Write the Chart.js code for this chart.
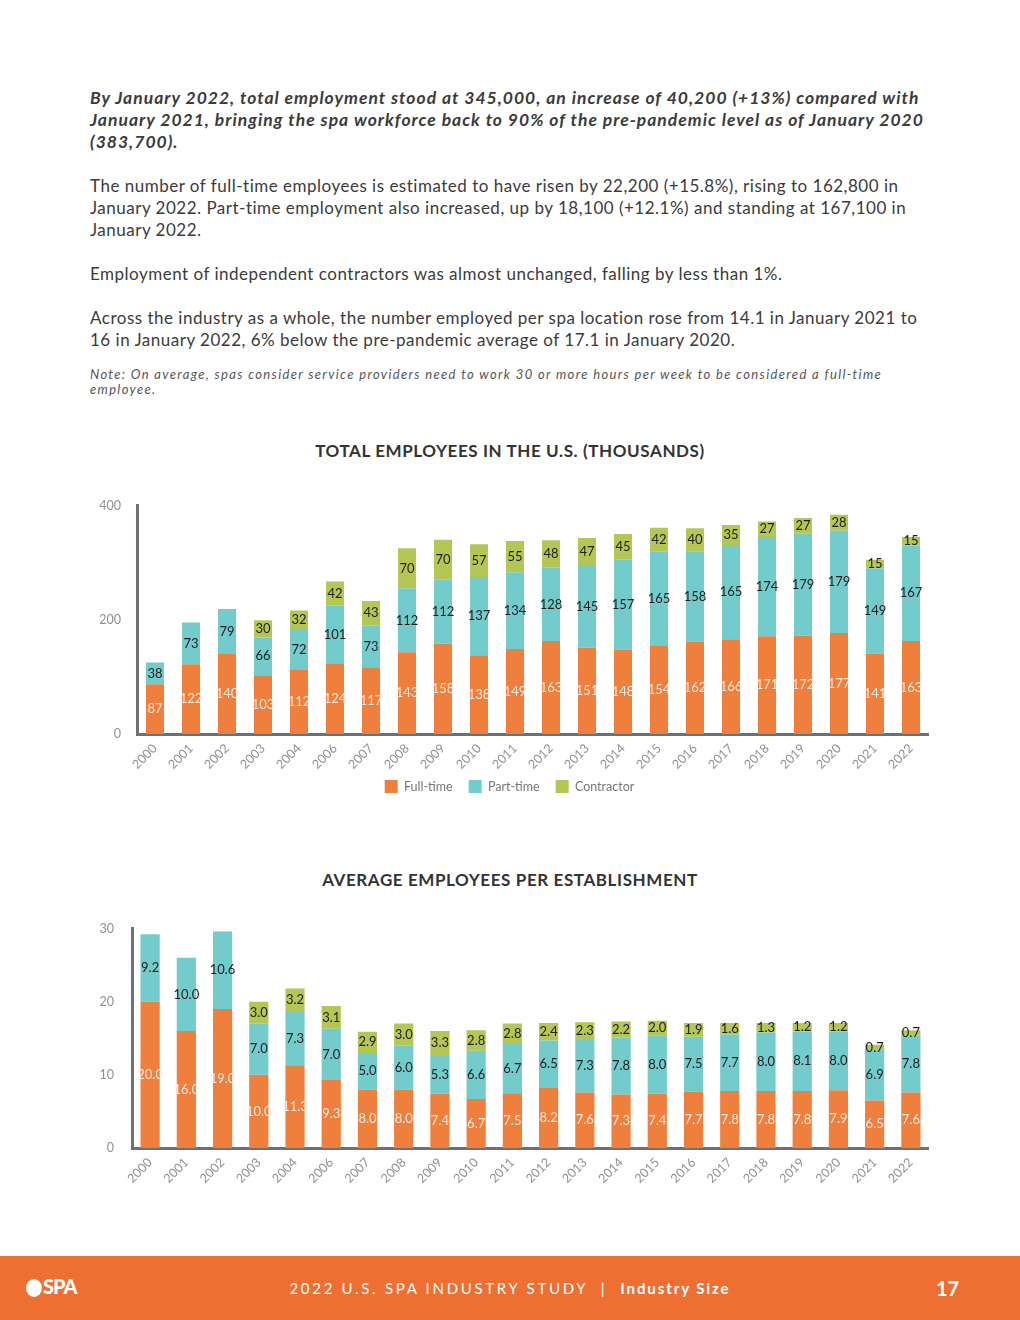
<!DOCTYPE html>
<html>
<head>
<meta charset="utf-8">
<script src="https://cdn.jsdelivr.net/npm/chart.js@4.4.0/dist/chart.umd.min.js"></script>
<style>
  body { margin: 0; width: 1020px; height: 1320px; position: relative; background: #fff; font-family: Lato, sans-serif; overflow: hidden; }
  .text { position: absolute; left: 90px; top: 87px; width: 880px; color: #3b3b3b; font-size: 17px; line-height: 22px; white-space: nowrap; letter-spacing: 0.5px; }
  .text p { margin: 0 0 22px 0; }
  .text .lead { font-weight: 700; font-style: italic; font-size: 17.5px; letter-spacing: 1px; }
  .text .note { font-style: italic; font-size: 13px; line-height: 15px; letter-spacing: 1.35px; color: #555; margin-top: -6px; }
  .title { position: absolute; left: 0; width: 1020px; text-align: center; font-size: 17px; font-weight: 700; color: #333; letter-spacing: 0.6px; }
  .chart { position: absolute; left: 90px; width: 839px; }
  .footer { position: absolute; left: 0; top: 1256px; width: 1020px; height: 64px; background: #ef6f33; color: #fff; }
  .footer .mid { position: absolute; left: 0; width: 1020px; top: 23px; text-align: center; font-size: 15px; letter-spacing: 2.7px; }
  .footer .mid b { letter-spacing: 1.9px; }
  .footer .page { position: absolute; left: 936px; top: 20px; font-size: 20px; font-weight: 700; }
  .footer .logo { position: absolute; left: 26px; top: 18px; font-size: 20px; font-weight: 900; letter-spacing: -1px; }
  .footer .logo span { display: inline-block; width: 16px; height: 18px; border-radius: 50%; background: #fff; vertical-align: -3px; margin-right: 1px; }
</style>
</head>
<body>
<div class="text">
  <p class="lead">By January 2022, total employment stood at 345,000, an increase of 40,200 (+13%) compared with<br>January 2021, bringing the spa workforce back to 90% of the pre-pandemic level as of January 2020<br>(383,700).</p>
  <p>The number of full-time employees is estimated to have risen by 22,200 (+15.8%), rising to 162,800 in<br>January 2022. Part-time employment also increased, up by 18,100 (+12.1%) and standing at 167,100 in<br>January 2022.</p>
  <p>Employment of independent contractors was almost unchanged, falling by less than 1%.</p>
  <p>Across the industry as a whole, the number employed per spa location rose from 14.1 in January 2021 to<br>16 in January 2022, 6% below the pre-pandemic average of 17.1 in January 2020.</p>
  <p class="note">Note: On average, spas consider service providers need to work 30 or more hours per week to be considered a full-time<br>employee.</p>
</div>

<div class="title" style="top:440px;">TOTAL EMPLOYEES IN THE U.S. (THOUSANDS)</div>
<div class="chart" style="top:482px; height:321px;"><canvas id="canvas-total"></canvas></div>

<div class="title" style="top:869px;">AVERAGE EMPLOYEES PER ESTABLISHMENT</div>
<div class="chart" style="top:903px; height:290px;"><canvas id="canvas-avg"></canvas></div>

<div class="footer">
  <div class="logo"><span></span>SPA</div>
  <div class="mid">2022 U.S. SPA INDUSTRY STUDY &nbsp;|&nbsp; <b>Industry Size</b></div>
  <div class="page">17</div>
</div>

<script>
const years = ["2000", "2001", "2002", "2003", "2004", "2006", "2007", "2008", "2009", "2010", "2011",
  "2012", "2013", "2014", "2015", "2016", "2017", "2018", "2019", "2020", "2021", "2022"];

// total employees, thousands
const totalFullTime = [87, 122, 140, 103, 112, 124, 117, 143, 158, 138, 149, 163, 151, 148, 154, 162, 166, 171, 172, 177, 141, 163];
const totalPartTime = [38, 73, 79, 66, 72, 101, 73, 112, 112, 137, 134, 128, 145, 157, 165, 158, 165, 174, 179, 179, 149, 167];
const totalContractor = [null, null, null, 30, 32, 42, 43, 70, 70, 57, 55, 48, 47, 45, 42, 40, 35, 27, 27, 28, 15, 15];
const totalTicks = [0, 200, 400];

// average employees per establishment
const avgFullTime = [20.0, 16.0, 19.0, 10.0, 11.3, 9.3, 8.0, 8.0, 7.4, 6.7, 7.5, 8.2, 7.6, 7.3, 7.4, 7.7, 7.8, 7.8, 7.8, 7.9, 6.5, 7.6];
const avgPartTime = [9.2, 10.0, 10.6, 7.0, 7.3, 7.0, 5.0, 6.0, 5.3, 6.6, 6.7, 6.5, 7.3, 7.8, 8.0, 7.5, 7.7, 8.0, 8.1, 8.0, 6.9, 7.8];
const avgContractor = [null, null, null, 3.0, 3.2, 3.1, 2.9, 3.0, 3.3, 2.8, 2.8, 2.4, 2.3, 2.2, 2.0, 1.9, 1.6, 1.3, 1.2, 1.2, 0.7, 0.7];
const avgTicks = [0, 10, 20, 30];

const ORANGE = "#ef7f3c";
const TEAL = "#74cbcb";
const GREEN = "#b6c654";
const LABEL_COLORS = ["#fbe9dd", "#1e1e1e", "#1e1e1e"];

// draws the value in the middle of each bar segment
const segmentLabels = {
  id: "segmentLabels",
  afterDatasetsDraw(chart, args, opts) {
    const ctx = chart.ctx;
    ctx.save();
    ctx.font = "13px Lato";
    ctx.textAlign = "center";
    ctx.textBaseline = "middle";
    chart.data.datasets.forEach((ds, i) => {
      const meta = chart.getDatasetMeta(i);
      meta.data.forEach((bar, j) => {
        const v = ds.data[j];
        if (v === null) return;
        const p = bar.getProps(["x", "y", "base"], true);
        ctx.fillStyle = LABEL_COLORS[i];
        ctx.fillText(opts.digits ? v.toFixed(opts.digits) : String(v), p.x, (p.y + p.base) / 2);
      });
    });
    ctx.restore();
  }
};

function createChart(id, fullTime, partTime, contractor, ticks, opts) {
  const ctx = document.getElementById(id);
  return new Chart(ctx, {
    type: "bar",
    data: {
      labels: years,
      datasets: [
        { label: "Full-time", data: fullTime, backgroundColor: ORANGE },
        { label: "Part-time", data: partTime, backgroundColor: TEAL },
        { label: "Contractor", data: contractor, backgroundColor: GREEN },
      ],
    },
    options: {
      responsive: true,
      maintainAspectRatio: false,
      animation: false,
      datasets: { bar: { barPercentage: opts.barPct, categoryPercentage: 1 } },
      layout: { padding: { top: 10, right: 0, left: 0, bottom: 0 } },
      plugins: {
        legend: {
          display: opts.legend,
          position: "bottom",
          labels: { boxWidth: 13, boxHeight: 13, padding: 16, color: "#777", font: { family: "Lato", size: 12.5 } },
        },
        tooltip: { enabled: false },
        segmentLabels: { digits: opts.digits },
      },
      scales: {
        x: {
          stacked: true,
          grid: { display: false, drawTicks: false },
          border: { display: true, color: "#6b7079", width: 3 },
          ticks: { color: "#8c9096", font: { family: "Lato", size: 12.5 }, minRotation: 45, maxRotation: 45, padding: 7 },
          afterFit: (s) => {
            s.height = opts.xHeight;
            // let the rotated year labels run past the shortened axis box
            s._computeLabelArea = () => null;
          },
        },
        y: {
          stacked: true,
          min: 0,
          max: ticks[ticks.length - 1],
          afterBuildTicks: (s) => { s.ticks = ticks.map((v) => ({ value: v })); },
          grid: { display: false, drawTicks: false },
          border: { display: true, color: "#6b7079", width: 3 },
          ticks: { color: "#8c9096", font: { family: "Lato", size: 12.5 }, padding: opts.yPad },
          afterFit: (s) => { s.width = opts.yWidth; },
        },
      },
    },
    plugins: [segmentLabels],
  });
}

createChart("canvas-total", totalFullTime, totalPartTime, totalContractor, totalTicks,
  { barPct: 0.5, legend: true, digits: 0, xHeight: 30, yWidth: 47, yPad: 16 });
createChart("canvas-avg", avgFullTime, avgPartTime, avgContractor, avgTicks,
  { barPct: 0.53, legend: false, digits: 1, xHeight: 45, yWidth: 42, yPad: 18 });
</script>
</body>
</html>
